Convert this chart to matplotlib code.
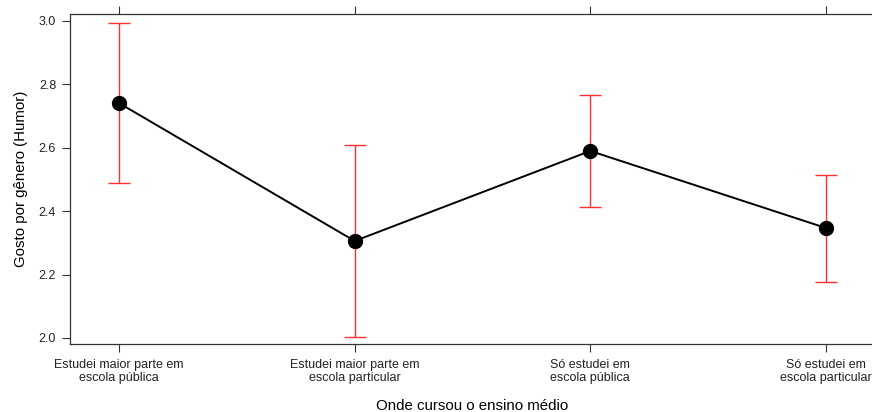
import matplotlib
matplotlib.use("Agg")
import matplotlib.pyplot as plt

plt.rcParams["font.family"] = ["Liberation Sans", "DejaVu Sans"]

# ── dados ─────────────────────────────────────────────────────
categorias = [
    "Estudei maior parte em\nescola pública",
    "Estudei maior parte em\nescola particular",
    "Só estudei em\nescola pública",
    "Só estudei em\nescola particular",
]
media = [2.741, 2.306, 2.590, 2.347]
limite_inf = [2.489, 2.003, 2.413, 2.177]
limite_sup = [2.995, 2.609, 2.767, 2.514]

pos = list(range(1, len(categorias) + 1))
err_low = [m - lo for m, lo in zip(media, limite_inf)]
err_high = [hi - m for m, hi in zip(media, limite_sup)]

# ── figura ────────────────────────────────────────────────────
fig = plt.figure(figsize=(8.72, 4.12), dpi=100)
ax = fig.add_axes([0.0803, 0.165, 0.9231, 0.801])

ax.errorbar(pos, media, yerr=[err_low, err_high], fmt="none",
            ecolor="#ff3030", elinewidth=1.0, capsize=8, capthick=1.0, zorder=2)
ax.plot(pos, media, color="black", linewidth=1.4, marker="o",
        markersize=10, zorder=3)

ax.set_xlim(0.792, 4.208)
ax.set_ylim(1.981, 3.022)
ax.set_yticks([2.0, 2.2, 2.4, 2.6, 2.8, 3.0])
ax.set_yticklabels(["2.0", "2.2", "2.4", "2.6", "2.8", "3.0"])
ax.set_xticks(pos)
ax.set_xticklabels(categorias, linespacing=1.05)

ax.tick_params(axis="x", which="both", direction="out", length=6, top=True,
               labelsize=9, colors="#333333", labelcolor="#222222", pad=5)
ax.tick_params(axis="y", direction="out", length=6, labelsize=9,
               colors="#333333", labelcolor="#222222", pad=4)
for s in ax.spines.values():
    s.set_color("#333333")
    s.set_linewidth(0.9)

ax.set_xlabel("Onde cursou o ensino médio", fontsize=10.8, labelpad=11)
ax.set_ylabel("Gosto por gênero (Humor)", fontsize=10.8, labelpad=8)

fig.savefig("out.png", dpi=100)
